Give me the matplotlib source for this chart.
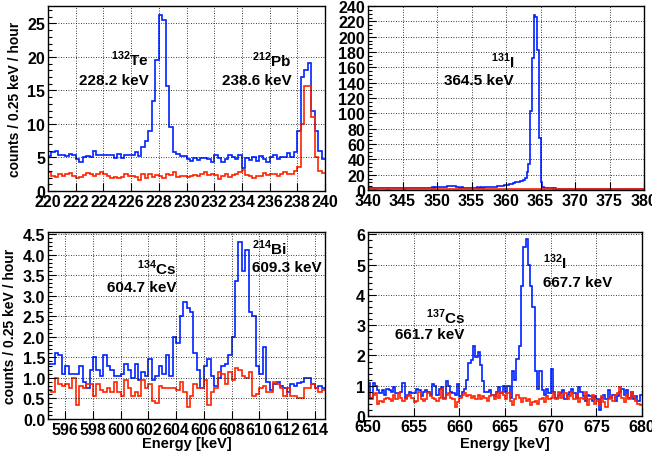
import numpy as np
import matplotlib
matplotlib.use("Agg")
import matplotlib.pyplot as plt
from matplotlib.ticker import MultipleLocator, FormatStrFormatter

plt.rcParams['font.family'] = ['Liberation Sans', 'DejaVu Sans']
plt.rcParams['font.weight'] = 'bold'
plt.rcParams['mathtext.fontset'] = 'custom'
plt.rcParams['mathtext.rm'] = 'Liberation Sans:bold'
plt.rcParams['mathtext.bf'] = 'Liberation Sans:bold'

BLUE = '#0022ff'
RED = '#ff2200'

# ---- panel 1 : 220-240 keV, 0.25 keV bins
te_range = (220.0, 240.0)
te_blue = [5.2, 5.8, 5.9, 5.4,  5.4, 5.2, 5.5, 5.4,  4.8, 4.4, 5.0, 5.2,  5.1, 6.0, 5.4, 5.4,
           5.3, 5.3, 5.4, 4.9,  5.5, 4.9, 5.4, 5.4,  5.4, 5.8, 5.2, 6.5,  7.5, 8.9, 13.4, 19.6,
           26.2, 25.5, 15.6, 9.5,  5.8, 5.5, 5.2, 5.2,  4.8, 4.5, 4.9, 4.6,  4.9, 4.9, 4.8, 4.3,
           5.4, 4.9, 4.3, 4.8,  5.4, 5.0, 4.7, 5.3,  3.4, 4.9, 4.6, 5.0,  4.5, 5.2, 4.7, 4.4,
           5.1, 5.3, 4.7, 5.0,  5.1, 5.7, 5.1, 5.8,  9.0, 17.0, 18.0, 19.1,  12.0, 8.9, 6.0, 4.8]
te_red = [2.9, 2.2, 2.1, 2.5,  2.3, 2.5, 2.7, 2.3,  2.0, 2.1, 2.4, 2.7,  2.5, 2.2, 2.6, 2.9,
          2.6, 2.3, 2.0, 2.1,  2.0, 2.1, 2.6, 2.3,  2.2, 2.1, 1.6, 2.6,  2.0, 2.5, 2.1, 2.4,
          2.3, 1.9, 2.6, 2.4,  2.8, 2.1, 2.3, 2.3,  2.1, 2.3, 2.4, 2.2,  2.6, 2.9, 2.4, 2.5,
          2.4, 1.8, 2.3, 2.5,  2.1, 2.4, 2.6, 2.9,  3.2, 2.4, 2.3, 2.0,  2.3, 2.2, 2.7, 2.4,
          2.6, 2.5, 2.2, 2.6,  2.8, 2.6, 2.5, 3.0,  3.6, 10.0, 15.6, 15.6,  11.0, 5.0, 3.0, 2.7]

# ---- panel 2 : 340-380 keV
i_range = (340.0, 380.0)
i_blue = [3.0, 2.8, 2.5, 2.7, 2.9, 3.1, 2.6, 2.8,
          2.7, 3.0, 2.9, 2.5, 2.8, 3.2, 2.7, 2.9,
          2.6, 2.9, 3.1, 2.8, 2.7, 2.9, 3.0, 2.6,
          3.1, 2.8, 2.7, 2.9, 3.0, 2.6, 2.9, 3.2,
          2.8, 2.7, 3.0, 2.9, 3.1, 3.3, 3.0, 3.4,
          3.6, 3.8, 3.5, 4.0, 4.3, 4.1, 4.6, 4.9,
          5.4, 5.0, 4.6, 4.0, 3.5, 3.2, 3.4, 3.0,
          2.9, 3.1, 2.8, 3.0, 3.2, 2.9, 3.1, 3.3,
          3.0, 3.4, 3.2, 3.6, 3.5, 3.8, 3.6, 4.0,
          4.2, 4.5, 4.3, 4.8, 5.0, 5.4, 5.8, 6.0,
          6.5, 7.0, 7.6, 8.3, 9.0, 9.8, 10.5, 11.0,
          11.5, 12.0, 13.0, 15.5, 23.0, 34.0, 103.0, 172.0,
          228.0, 226.0, 182.0, 68.0, 10.0, 4.5, 3.0, 2.5,
          2.3, 2.1, 2.0, 1.9, 2.0, 1.8, 1.9, 1.7,
          1.8, 1.6, 1.7, 1.5, 1.6, 1.7, 1.5, 1.4,
          1.5, 1.6, 1.3, 1.5, 1.4, 1.2, 1.5, 1.3,
          1.4, 1.3, 1.2, 1.5, 1.3, 1.4, 1.2, 1.1,
          1.3, 1.2, 1.4, 1.1, 1.2, 1.3, 1.1, 1.4,
          1.2, 1.1, 1.3, 1.0, 1.2, 1.3, 1.0, 1.1,
          1.1, 1.2, 1.0, 1.3, 1.1, 1.0, 1.2, 1.1]
i_red = [0.8, 0.7, 0.9, 0.8, 0.6, 0.9, 0.7, 0.8,
         0.9, 0.7, 0.8, 0.6, 0.8, 0.9, 0.7, 0.8,
         0.7, 0.8, 0.9, 0.7, 0.8, 0.6, 0.9, 0.8,
         0.7, 0.9, 0.8, 0.7, 0.8, 0.7, 0.9, 0.8,
         0.8, 0.7, 0.9, 0.8, 0.7, 0.8, 0.9, 0.7,
         0.8, 0.9, 0.7, 0.8, 0.9, 0.8, 0.7, 0.9,
         0.8, 0.7, 0.8, 0.9, 0.7, 0.8, 0.8, 0.7,
         0.9, 0.8, 0.7, 0.8, 0.9, 0.7, 0.8, 0.8,
         0.7, 0.9, 0.8, 0.7, 0.8, 0.9, 0.8, 0.7,
         0.8, 0.9, 0.7, 0.8, 0.8, 0.9, 0.7, 0.8,
         0.9, 0.8, 0.7, 0.8, 0.9, 0.8, 0.8, 0.9,
         0.8, 0.9, 0.8, 0.9, 1.0, 1.1, 1.3, 1.6,
         1.9, 1.8, 1.5, 1.1, 0.9, 0.8, 0.7, 0.8,
         0.8, 0.7, 0.9, 0.8, 0.7, 0.8, 0.8, 0.7,
         0.9, 0.8, 0.7, 0.8, 0.8, 0.9, 0.7, 0.8,
         0.7, 0.8, 0.9, 0.7, 0.8, 0.8, 0.7, 0.9,
         0.8, 0.7, 0.8, 0.9, 0.7, 0.8, 0.8, 0.7,
         0.9, 0.8, 0.7, 0.8, 0.8, 0.7, 0.9, 0.8,
         0.7, 0.8, 0.8, 0.9, 0.7, 0.8, 0.7, 0.8,
         0.8, 0.9, 0.7, 0.8, 0.8, 0.7, 0.8, 0.9]

# ---- panel 3 : 594.75-614.75 keV
cs_range = (594.75, 614.75)
cs_blue = [1.35,  1.35, 1.6, 1.55, 1.1,  1.3, 1.1, 1.1, 1.1,  1.3, 0.9, 0.75, 1.2,
           1.5, 1.2, 1.05, 1.55,  1.3, 1.2, 1.05, 1.05,  1.1, 1.35, 1.2, 1.0,
           1.35, 0.95, 1.15, 1.05,  1.45, 0.95, 1.05, 1.3,  1.1, 1.55, 1.05, 2.0,
           1.85, 2.5, 2.85, 2.7,  2.6, 1.6, 1.2, 0.75,  1.3, 1.45, 1.05, 0.8,
           1.0, 1.3, 1.35, 1.55,  2.0, 3.35, 4.3, 3.6,  4.1, 2.6, 2.5, 1.3,
           1.1, 1.75, 0.9, 0.7,  0.85, 0.9, 0.8, 0.75,  0.65, 0.85, 0.8, 0.88,
           0.9, 1.0, 1.0, 0.85,  0.75, 0.8, 0.75]
cs_red = [0.7,  0.65, 1.0, 0.85, 0.8,  0.85, 0.75, 1.0, 0.35,  0.8, 0.75, 0.85, 0.85,
          0.55, 0.85, 0.7, 0.65,  0.75, 0.65, 0.9, 0.65,  0.55, 0.95, 0.75, 0.55,
          0.65, 0.55, 0.95, 0.75,  0.85, 0.45, 0.4, 0.8,  0.75, 0.75, 0.75, 0.75,
          0.7, 0.9, 0.65, 0.3,  0.55, 0.85, 0.75, 0.75,  0.95, 0.35, 0.65, 0.75,
          1.15, 1.1, 0.85, 1.15,  0.95, 1.25, 1.2, 1.05,  1.0, 1.15, 0.55, 0.6,
          0.75, 0.8, 0.65, 0.65,  0.9, 0.85, 0.75, 0.55,  0.75, 0.55, 0.55, 0.5,
          0.5, 0.75, 0.75, 0.85,  0.75, 0.65, 0.7]

# ---- panel 4 : 650-680 keV
cs137_range = (650.0, 680.0)
cs137_blue = [1.1, 0.6, 1.1, 1.0,  0.85, 0.75, 0.85, 0.7,  0.9, 0.85, 0.8, 0.95,
              0.75, 0.75, 0.8, 1.1,  0.6, 0.7, 0.8, 0.75,  0.75, 0.9, 0.85, 0.65,
              0.8, 0.85, 0.8, 0.7,  1.05, 1.0, 0.7, 0.9,  0.95, 0.6, 1.15, 1.0,
              0.8, 0.75, 0.7, 1.05,  0.65, 0.8, 0.9, 1.2,  1.75, 1.85, 2.3, 1.95,
              2.1, 1.7, 1.15, 0.8,  0.8, 0.85, 0.7, 0.65,  0.8, 0.95, 0.75, 1.0,
              0.8, 1.0, 0.6, 1.5,  1.2, 1.9, 2.3, 4.3,  5.6, 5.85, 5.0, 4.3,
              3.6, 1.5, 0.9, 1.5,  0.85, 0.7, 0.9, 0.75,  1.55, 0.8, 0.6, 0.7,
              0.75, 0.85, 0.55, 0.7,  0.8, 0.9, 0.75, 0.6,  0.95, 0.8, 0.65, 0.5,
              0.7, 0.65, 0.5, 0.65,  0.55, 0.2, 0.6, 0.7,  0.55, 0.85, 0.6, 0.7,
              0.5, 0.65, 0.8, 0.9,  0.7, 0.85, 0.6, 0.8,  0.55, 0.65, 0.5, 0.7]
cs137_red = [0.8, 0.55, 0.7, 0.75,  0.4, 0.5, 0.45, 0.55,  0.6, 0.55, 0.5, 0.7,
             0.55, 0.75, 0.6, 0.5,  0.55, 0.65, 0.7, 0.6,  0.45, 0.5, 0.8, 0.55,
             0.5, 0.55, 0.75, 0.65,  0.6, 0.55, 0.5, 0.6,  0.9, 0.55, 0.7, 0.75,
             0.6, 0.55, 0.3, 0.45,  0.6, 0.7, 0.75, 0.65,  0.7, 0.6, 0.65, 0.55,
             0.7, 0.55, 0.65, 0.6,  0.5, 0.65, 0.7, 0.55,  0.75, 0.6, 0.8, 0.7,
             0.55, 0.75, 0.5, 0.35,  0.55, 0.7, 0.6, 0.45,  0.6, 0.5, 0.55, 0.35,
             0.45, 0.5, 0.4, 0.55,  0.6, 0.45, 0.65, 0.55,  0.6, 0.75, 0.55, 0.8,
             0.6, 0.7, 0.75, 0.55,  0.65, 0.8, 0.55, 0.7,  0.45, 0.6, 0.55, 0.8,
             0.35, 0.55, 0.7, 0.4,  0.5, 0.35, 0.65, 0.45,  0.3, 0.55, 0.65, 0.5,
             0.7, 0.75, 0.95, 0.6,  0.45, 0.7, 0.55, 0.8,  0.65, 0.5, 0.4, 0.35]

W, H = 652, 456
fig = plt.figure(figsize=(W / 100, H / 100), dpi=100)
TXT = dict(fontsize=11, fontweight='bold', va='center')


def make_ax(l, r, t, b):
    return fig.add_axes([l / W, 1 - b / H, (r - l) / W, (b - t) / H])


def style(ax, xr, ylim, xmaj, ymaj, ymin, yfmt=None):
    ax.set_xlim(*xr)
    ax.set_ylim(*ylim)
    ax.xaxis.set_major_locator(MultipleLocator(xmaj))
    ax.yaxis.set_major_locator(MultipleLocator(ymaj))
    ax.yaxis.set_minor_locator(MultipleLocator(ymin))
    if yfmt:
        ax.yaxis.set_major_formatter(FormatStrFormatter(yfmt))
    ax.grid(True, which='major', color='black', linestyle=(0, (1, 2)), linewidth=0.6)
    ax.tick_params(which='both', direction='in', top=False, right=False,
                   labelsize=11.5, pad=2, width=0.8)
    ax.tick_params(which='major', length=6)
    ax.tick_params(which='minor', length=3)
    for s in ax.spines.values():
        s.set_linewidth(1.0)
    for lab in ax.get_xticklabels() + ax.get_yticklabels():
        lab.set_fontweight('bold')


def hist(ax, xr, vals, color):
    edges = np.linspace(xr[0], xr[1], len(vals) + 1)
    ax.stairs(vals, edges, baseline=None, color=color, linewidth=1.2)


ax1 = make_ax(48, 325, 7, 192)
hist(ax1, te_range, te_blue, BLUE)
hist(ax1, te_range, te_red, RED)
style(ax1, te_range, (0, 27.6), 2, 5, 1)
ax1.set_ylabel('counts / 0.25 keV / hour', fontsize=10, fontweight='bold', labelpad=4)
ax1.text(227.3, 19.8, r'$^{132}$Te', ha='right', **TXT)
ax1.text(227.3, 16.6, '228.2 keV', ha='right', **TXT)
ax1.text(237.6, 19.6, r'$^{212}$Pb', ha='right', **TXT)
ax1.text(237.6, 16.6, '238.6 keV', ha='right', **TXT)

ax2 = make_ax(368, 644, 7, 191)
hist(ax2, i_range, i_blue, BLUE)
hist(ax2, i_range, i_red, RED)
style(ax2, i_range, (0, 240), 5, 20, 5)
ax2.text(361.3, 169, r'$^{131}$I', ha='right', **TXT)
ax2.text(361.1, 143, '364.5 keV', ha='right', **TXT)

ax3 = make_ax(48, 325, 233, 420)
hist(ax3, cs_range, cs_blue, BLUE)
hist(ax3, cs_range, cs_red, RED)
style(ax3, cs_range, (0, 4.55), 2, 0.5, 0.1, '%.1f')
ax3.set_ylabel('counts / 0.25 keV / hour', fontsize=10, fontweight='bold', labelpad=4)
ax3.set_xlabel('Energy [keV]', fontsize=10.5, fontweight='bold', va='center')
ax3.xaxis.set_label_coords(0.5, -0.128)
ax3.text(604.0, 3.70, r'$^{134}$Cs', ha='right', **TXT)
ax3.text(604.0, 3.21, '604.7 keV', ha='right', **TXT)
ax3.text(609.5, 4.18, r'$^{214}$Bi', ha='left', **TXT)
ax3.text(609.5, 3.70, '609.3 keV', ha='left', **TXT)

ax4 = make_ax(368, 642, 233, 417)
hist(ax4, cs137_range, cs137_blue, BLUE)
hist(ax4, cs137_range, cs137_red, RED)
style(ax4, cs137_range, (0, 6.08), 5, 1, 0.2)
ax4.set_xlabel('Energy [keV]', fontsize=10.5, fontweight='bold', va='center')
ax4.xaxis.set_label_coords(0.5, -0.146)
ax4.text(660.6, 3.29, r'$^{137}$Cs', ha='right', **TXT)
ax4.text(660.6, 2.70, '661.7 keV', ha='right', **TXT)
ax4.text(669.2, 5.10, r'$^{132}$I', ha='left', **TXT)
ax4.text(669.2, 4.44, '667.7 keV', ha='left', **TXT)

fig.savefig('out.png', dpi=100)
